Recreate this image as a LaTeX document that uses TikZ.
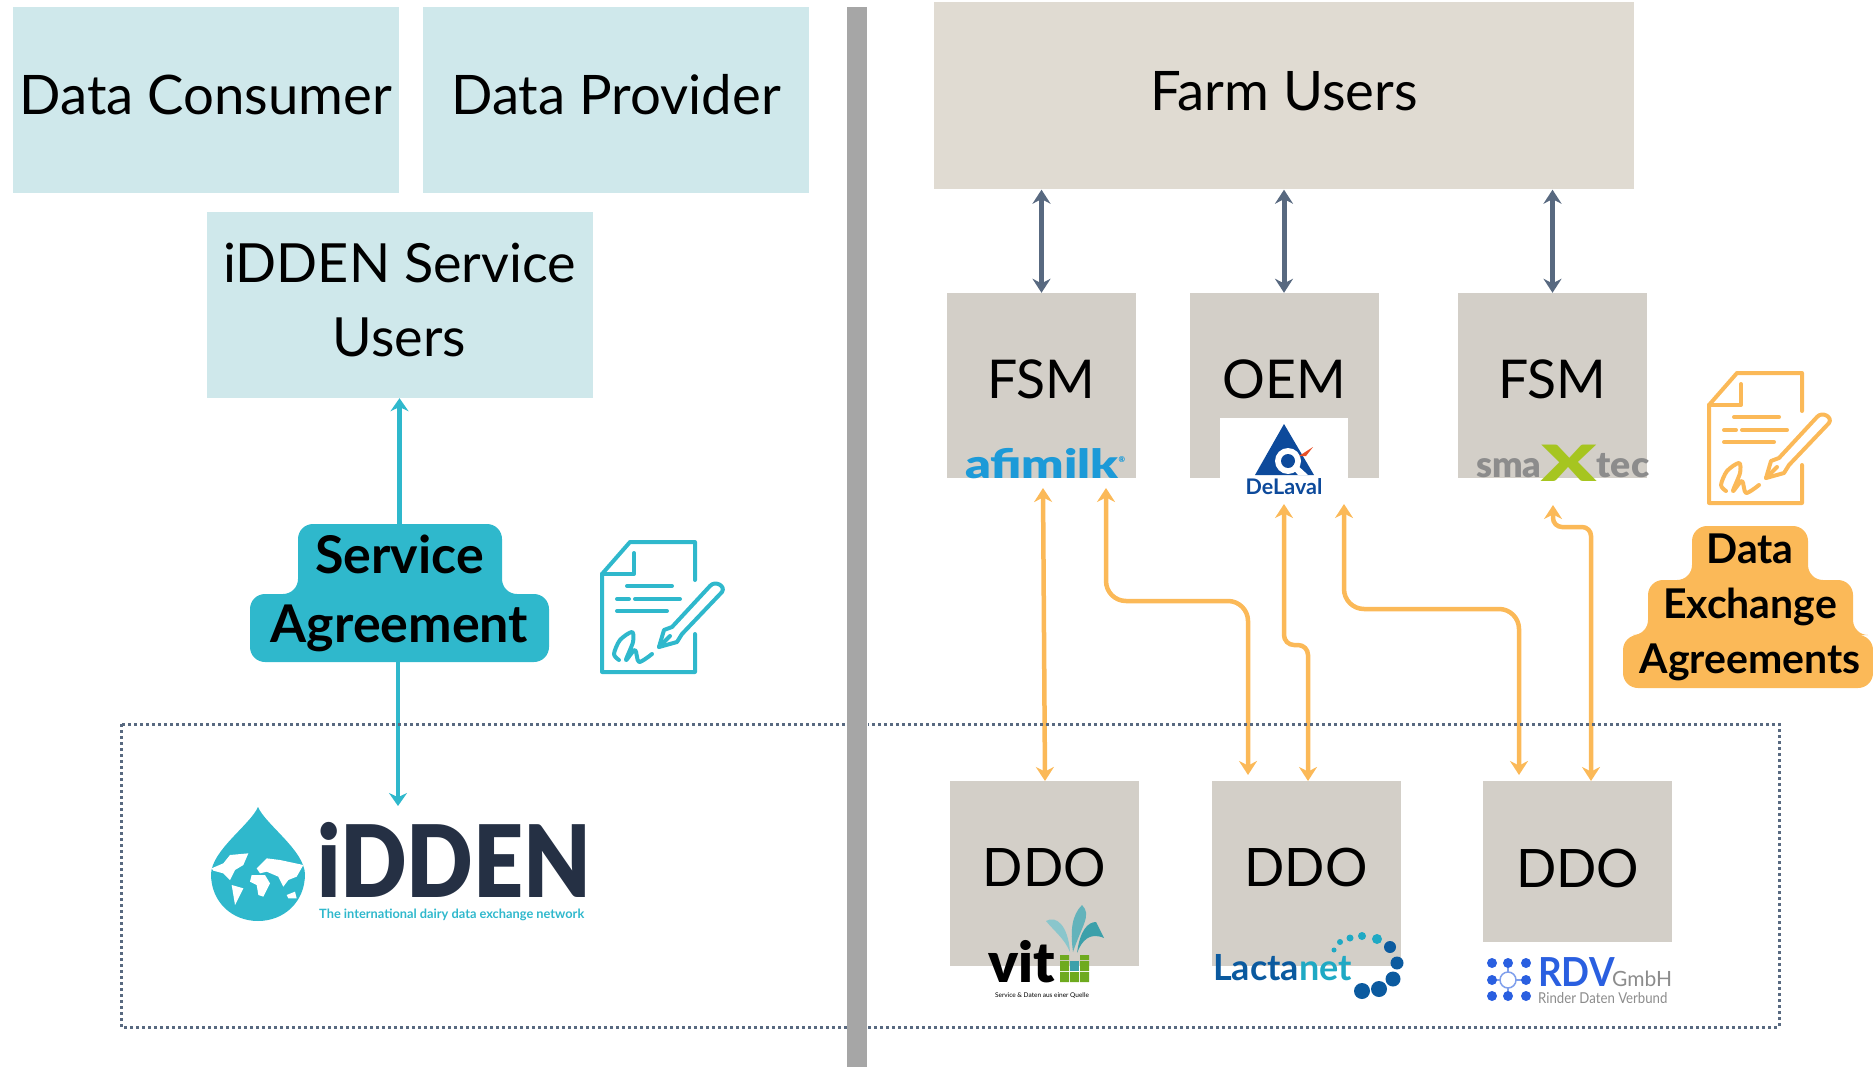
\documentclass[tikz,border=0pt]{standalone}
\usepackage{fontspec}
\setmainfont{Lato}
\newfontfamily\heavyfont{Lato Black}
\usetikzlibrary{arrows.meta}
\definecolor{paleblue}{RGB}{207,232,235}
\definecolor{farmbeige}{RGB}{224,219,210}
\definecolor{ownergrey}{RGB}{211,207,200}
\definecolor{agreeteal}{RGB}{47,184,204}
\definecolor{agreeorange}{RGB}{251,185,88}
\definecolor{slateblue}{RGB}{88,105,128}
\definecolor{dividergrey}{RGB}{166,166,166}
\definecolor{iddennavy}{RGB}{37,48,68}
\definecolor{afiblue}{RGB}{28,154,216}
\definecolor{smagrey}{RGB}{140,140,140}
\definecolor{smalime}{RGB}{166,197,32}
\definecolor{delblue}{RGB}{13,74,155}
\definecolor{delred}{RGB}{232,80,40}
\definecolor{lacblue}{RGB}{11,90,159}
\definecolor{lacteal}{RGB}{31,169,196}
\definecolor{rdvblue}{RGB}{42,95,224}
\definecolor{vitgreen}{RGB}{110,170,30}
\definecolor{vitteal}{RGB}{60,160,170}
\tikzset{
  tealbox/.style={fill=paleblue,minimum width=386pt,minimum height=186pt,inner sep=0pt,text height=38pt,text depth=9pt,font=\fontsize{54.5}{74}\selectfont},
  farmbox/.style={fill=farmbeige,minimum width=700pt,minimum height=187pt,inner sep=0pt,text height=38pt,text depth=9pt,font=\fontsize{54.5}{74}\selectfont},
  ownerbox/.style={fill=ownergrey,minimum width=189pt,minimum height=185pt,inner sep=0pt,text height=38pt,text depth=13pt,font=\fontsize{53.5}{74}\selectfont},
  slatearrow/.style={draw=slateblue,line width=5pt,{Stealth[length=14pt,width=18pt]}-{Stealth[length=14pt,width=18pt]}},
  orangearrow/.style={draw=agreeorange,line width=4.5pt,rounded corners=20pt,{Stealth[length=14pt,width=18pt]}-{Stealth[length=14pt,width=18pt]}},
  tealarrow/.style={draw=agreeteal,line width=4.5pt,-{Stealth[length=13pt,width=18pt]}},
  agreetext/.style={inner sep=0pt,align=center,font=\fontsize{52}{69}\selectfont\bfseries}
}
\newcommand{\signdoc}[3]{
\begin{scope}[shift={(#1,#2)},draw=#3,line width=4pt,line cap=round,line join=round]
\draw (93,38) -- (93,0) -- (28,0) -- (0,32) -- (0,130) -- (93,130) -- (93,92);
\draw (32,11) -- (32,32) -- (0,32);
\draw (25,44) -- (70,44);
\draw (15,57) -- (27,57);
\draw (33,57) -- (78,57);
\draw (15,69) -- (65,69);
\draw (57,105) -- (62,88) -- (70,85) -- (108,44) .. controls (113,38) and (124,44) .. (120,50) -- (80,92) -- (75,100) -- cycle;
\draw (57,105) -- (68,94);
\draw plot[smooth] coordinates {(17,118) (12,112) (18,98) (30,90) (31,100) (24,118) (33,108) (37,120) (50,112)};
\end{scope}
}

\begin{document}
\begin{tikzpicture}[x=1pt,y=-1pt]
\useasboundingbox (0,0) rectangle (1873,1067);
\node[tealbox] (consumer) at (206,100) {Data Consumer};
\node[tealbox] (provider) at (616,100) {Data Provider};
\node[tealbox,align=center,text height=,text depth=10pt,font=\fontsize{54}{74}\selectfont] (serviceusers) at (399.5,305) {iDDEN Service\\Users};
\node[farmbox] (farmusers) at (1284,96) {Farm Users};
\node[ownerbox] (fsmA) at (1041.5,385.5) {FSM};
\node[ownerbox] (oem) at (1284,385.5) {OEM};
\node[ownerbox] (fsmB) at (1552.5,385.5) {FSM};
\node[ownerbox,font=\fontsize{53}{74}\selectfont] (ddoA) at (1044.5,873.5) {DDO};
\node[ownerbox,font=\fontsize{53}{74}\selectfont] (ddoB) at (1306,873.5) {DDO};
\node[ownerbox,minimum height=161pt,text height=51pt,text depth=0pt,font=\fontsize{53}{74}\selectfont] (ddoC) at (1577.5,861.5) {DDO};
\draw[slatearrow] (farmusers.south -| fsmA) -- (fsmA.north);
\draw[slatearrow] (farmusers.south -| oem) -- (oem.north);
\draw[slatearrow] (farmusers.south -| fsmB) -- (fsmB.north);
% left side agreement
\fill[agreeteal,rounded corners=15pt] (298,524) -- (502,524) -- (502,594) -- (549,594) -- (549,662) -- (250,662) -- (250,594) -- (298,594) -- cycle;
\node[agreetext,minimum width=299pt,minimum height=138pt] (serviceagr) at (399.5,593) {Service\\Agreement};
\coordinate (iddentop) at (398,806);
\draw[tealarrow] (serviceagr.north) -- (serviceusers.south);
\draw[tealarrow] (serviceagr.south -| iddentop) -- (iddentop);
\signdoc{602}{542}{agreeteal}
% idden logo
\fill[agreeteal] (258,807) .. controls (250,825) and (212,850) .. (211,874) .. controls (211,902) and (232,921) .. (258,921) .. controls (284,921) and (305,902) .. (305,874) .. controls (304,850) and (266,825) .. (258,807) -- cycle;
\begin{scope}[shift={(180,780)},scale=1/3]
\fill[white] (95,265) -- (130,250) -- (150,225) -- (205,220) -- (190,255) -- (165,270) -- (150,300) -- (130,280) -- (100,272) -- cycle;
\fill[white] (155,315) -- (190,325) -- (175,355) -- (165,375) -- (160,345) -- cycle;
\fill[white] (230,265) -- (260,235) -- (300,240) -- (370,255) -- (350,290) -- (325,300) -- (310,320) -- (295,290) -- (260,275) -- (240,280) -- cycle;
\fill[white] (215,285) -- (255,285) -- (270,310) -- (250,350) -- (235,345) -- (230,315) -- (210,305) -- cycle;
\fill[white] (320,345) -- (345,335) -- (350,355) -- (325,355) -- cycle;
\end{scope}
\node[anchor=base west,inner sep=0pt,text=iddennavy,font=\heavyfont\fontsize{100}{100}\selectfont] (iddenname) at (317,897) {\scalebox{0.875}[1]{iDDEN}};
\node[anchor=base west,inner sep=0pt,text=agreeteal,font=\bfseries\fontsize{12.8}{13}\selectfont] (iddentag) at (319,918) {The international dairy data exchange network};
% logos of the farm side
\node[anchor=base west,inner sep=0pt,text=afiblue,font=\heavyfont\fontsize{40}{40}\selectfont] (afimilk) at (965,478) {\scalebox{1.25}[1]{afimilk}\raisebox{16pt}{\fontsize{8}{8}\selectfont ®}};
\fill[white] (1220,418) rectangle (1348,500);
\coordinate (delaval) at (1284,504);
\fill[delblue] (1284,424) -- (1255,475) -- (1314,475) -- cycle;
\fill[white] (1288,461) circle (13pt);
\fill[delblue] (1288,461) circle (7pt);
\fill[white] (1295,463) -- (1308,475) -- (1298,475) -- (1292,468) -- cycle;
\fill[delred] (1299,456) -- (1313,447) -- (1306,456) -- cycle;
\node[anchor=base,inner sep=0pt,text=delblue,font=\bfseries\fontsize{21.5}{22}\selectfont] (delavalname) at (1284,494) {DeLaval};
\node[anchor=base west,inner sep=0pt,font=\heavyfont\fontsize{36}{36}\selectfont] (smaxtec) at (1476,477) {\textcolor{smagrey}{sma}\textcolor{smalime}{\fontsize{50}{50}\selectfont\raisebox{-4pt}{\scalebox{1.6}[1]{X}}}\textcolor{smagrey}{\scalebox{1.04}[1]{tec}}};
% logos of the dairy side
\fill[vitteal!60] (1046,921) .. controls (1056,915) and (1068,925) .. (1070,952) .. controls (1064,938) and (1055,932) .. cycle;
\fill[vitteal!80] (1082,905) .. controls (1092,915) and (1082,925) .. (1073,952) .. controls (1070,930) and (1072,915) .. cycle;
\fill[vitteal] (1104,938) .. controls (1090,932) and (1082,940) .. (1077,953) .. controls (1080,930) and (1088,922) .. (1096,922) -- cycle;
\node[anchor=base west,inner sep=0pt,font=\heavyfont\fontsize{56}{56}\selectfont] (vit) at (988,982) {vit};
\fill[vitgreen] (1060,972) rectangle (1069,982) (1070,972) rectangle (1079,982) (1080,972) rectangle (1089,982);
\fill[vitgreen] (1060,961) rectangle (1069,971) (1080,961) rectangle (1089,971);
\fill[vitteal] (1070,961) rectangle (1079,971);
\fill[vitgreen] (1060,955) rectangle (1069,960) (1080,955) rectangle (1089,960);
\node[anchor=base,inner sep=0pt,font=\fontsize{6.5}{7}\selectfont] (vittag) at (1042,997) {Service \& Daten aus einer Quelle};
\node[anchor=base west,inner sep=0pt,font=\bfseries\fontsize{36}{36}\selectfont] (lactanet) at (1213,980) {\textcolor{lacblue}{Lacta}\textcolor{lacteal}{net}};
\fill[lacteal] (1334,950) circle (2.5pt);
\fill[lacteal] (1340,942) circle (3pt);
\fill[lacteal] (1350,938) circle (3.5pt);
\fill[lacteal] (1362,936) circle (4pt);
\fill[lacteal] (1377,939) circle (5pt);
\fill[lacblue] (1390,947) circle (6pt);
\fill[lacblue] (1397,963) circle (6.5pt);
\fill[lacblue] (1393,979) circle (7.5pt);
\fill[lacblue] (1379,989) circle (8pt);
\fill[lacblue] (1362,991) circle (8pt);
\draw[rdvblue!60,line width=1.5pt] (1492,980) -- (1526,980) (1508,963) -- (1508,996);
\fill[white,draw=rdvblue!60,line width=1.5pt] (1508,980) circle (8pt);
\fill[rdvblue] (1492,963) circle (5pt);
\fill[rdvblue] (1508,963) circle (5pt);
\fill[rdvblue] (1526,963) circle (5pt);
\fill[rdvblue] (1492,980) circle (5pt);
\fill[rdvblue] (1526,980) circle (5pt);
\fill[rdvblue] (1492,996) circle (5pt);
\fill[rdvblue] (1508,996) circle (5pt);
\fill[rdvblue] (1526,996) circle (5pt);
\node[anchor=base west,inner sep=0pt,text=rdvblue,font=\bfseries\fontsize{40}{40}\selectfont] (rdv) at (1538,986) {\scalebox{0.92}[1]{RDV}};
\node[anchor=base west,inner sep=0pt,text=smagrey,font=\fontsize{21}{21}\selectfont] (rdvgmbh) at (1612,986) {GmbH};
\begin{scope}
\clip (1530,985) rectangle (1680,1002);
\node[anchor=base west,inner sep=0pt,text=smagrey,font=\fontsize{15}{16}\selectfont] (rdvname) at (1538,1003) {\scalebox{0.88}[1]{Rinder Daten Verbund}};
\end{scope}
% data exchange connectors
\coordinate (afiA) at (1043,488);
\coordinate (afiB) at (1106,488);
\coordinate (delB) at (1344,504);
\coordinate (smaA) at (1553,505);
\coordinate (vitA) at (1045,781);
\coordinate (lacA) at (1248,775);
\coordinate (lacB) at (1308,781);
\coordinate (rdvA) at (1519,775);
\coordinate (rdvB) at (1591,781);
\draw[orangearrow] (afiA) -- (vitA);
\draw[orangearrow] (afiB) -- (1106,601) -- (1248,601) -- (lacA);
\draw[orangearrow,rounded corners=10pt] (delaval) -- (1284,645) -- (1308,645) -- (lacB);
\draw[orangearrow] (delB) -- (1344,609) -- (1519,609) -- (rdvA);
\draw[orangearrow,rounded corners=9pt] (smaA) -- (1553,527) -- (1591,527) -- (rdvB);
\signdoc{1709}{373}{agreeorange}
\fill[agreeorange,rounded corners=15pt] (1692,526) -- (1808,526) -- (1808,580) -- (1853,580) -- (1853,635) -- (1873,635) -- (1873,688) -- (1623,688) -- (1623,635) -- (1648,635) -- (1648,580) -- (1692,580) -- cycle;
\node[agreetext,font=\fontsize{41}{55}\selectfont\bfseries] (dataexchange) at (1750,607) {Data\\Exchange\\Agreements};
% dotted frame and divider
\draw[slateblue,line width=3pt,dash pattern=on 3pt off 3pt] (121,724) rectangle (1779,1027);
\fill[white] (847,700) rectangle (868,1067);
\node[fill=dividergrey,minimum width=20pt,minimum height=1060pt,inner sep=0pt,anchor=north] (divider) at (857,7) {};
\end{tikzpicture}
\end{document}
